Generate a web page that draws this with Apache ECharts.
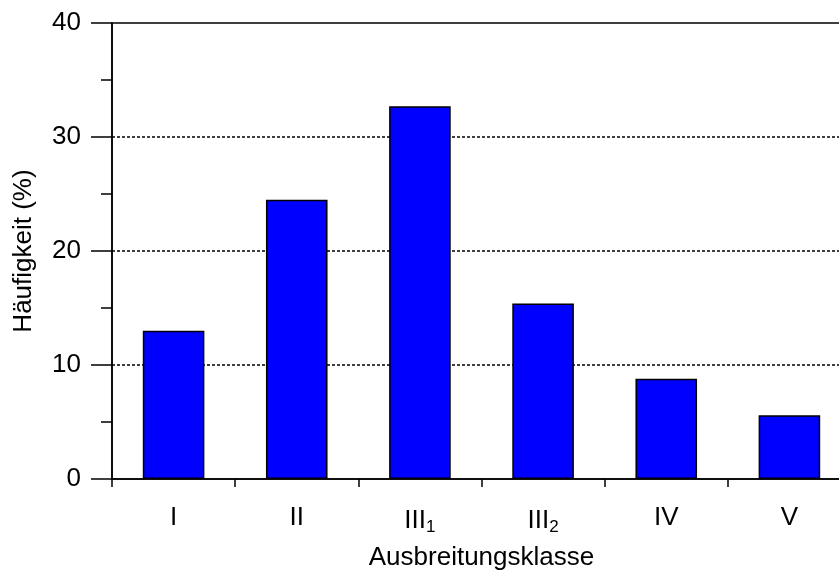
<!DOCTYPE html>
<html>
<head>
<meta charset="utf-8">
<script src="https://cdn.jsdelivr.net/npm/echarts@6/dist/echarts.min.js"></script>
<style>
  html, body { margin: 0; padding: 0; background: #fff; overflow: hidden; }
  /* the plot frame runs slightly past the right edge of the window */
  #chart { width: 851px; height: 572px; }
</style>
</head>
<body>
<div id="chart"></div>
<script>
// Häufigkeit der Ausbreitungsklassen (%)
const categories = ['I', 'II', 'III₁', 'III₂', 'IV', 'V'];
const frequency = [13.0, 24.5, 32.7, 15.4, 8.8, 5.6];
const yTicks = [0, 10, 20, 30, 40];

const subMap = { '₁': '1', '₂': '2' };
function formatCategory(name) {
  const m = name.match(/^(.*?)([₁₂])$/);
  if (!m) return '{base|' + name + '}';
  return '{base|' + m[1] + '}{sub|' + subMap[m[2]] + '}';
}

const FONT = 'Liberation Sans, Arial, sans-serif';
const FS = 26;
const chart = echarts.init(document.getElementById('chart'), null, { renderer: 'canvas' });

chart.setOption({
  animation: false,
  backgroundColor: '#ffffff',
  grid: {
    left: 112,
    top: 23,
    right: 0,
    bottom: 93,
    outerBoundsMode: 'none',
    show: true,
    borderColor: '#000',
    borderWidth: 1.5,
    backgroundColor: 'transparent'
  },
  xAxis: {
    type: 'category',
    data: categories,
    boundaryGap: true,
    name: 'Ausbreitungsklasse',
    nameLocation: 'middle',
    nameGap: 66,
    nameTextStyle: { fontFamily: FONT, fontSize: FS, color: '#000' },
    axisLine: { lineStyle: { color: '#000', width: 1.5 } },
    axisTick: { show: true, alignWithLabel: false, length: 8, lineStyle: { color: '#000', width: 1.5 } },
    axisLabel: {
      margin: 26,
      formatter: formatCategory,
      rich: {
        base: { fontFamily: FONT, fontSize: FS, color: '#000' },
        sub: { fontFamily: FONT, fontSize: 17, color: '#000', verticalAlign: 'bottom', padding: [14, 0, 0, 0] }
      }
    },
    splitLine: { show: false }
  },
  yAxis: {
    type: 'value',
    min: yTicks[0],
    max: yTicks[yTicks.length - 1],
    interval: 10,
    name: 'Häufigkeit (%)',
    nameLocation: 'middle',
    nameGap: 75,
    nameTextStyle: { fontFamily: FONT, fontSize: FS, color: '#000' },
    axisLine: { show: true, lineStyle: { color: '#000', width: 1.5 } },
    axisTick: { show: true, inside: false, length: 21, lineStyle: { color: '#000', width: 1.5 } },
    minorTick: { show: true, splitNumber: 2, length: 11, lineStyle: { color: '#000', width: 1.5 } },
    axisLabel: { margin: 31, fontFamily: FONT, fontSize: FS, color: '#000' },
    splitLine: {
      show: true,
      showMinLine: false,
      showMaxLine: false,
      lineStyle: { color: '#000', width: 1.5, type: [3, 2] }
    }
  },
  series: [{
    type: 'bar',
    data: frequency,
    barWidth: '50%',
    itemStyle: { color: '#0000ff', borderColor: '#000', borderWidth: 1.5 },
    z: 3
  }]
});
</script>
</body>
</html>
